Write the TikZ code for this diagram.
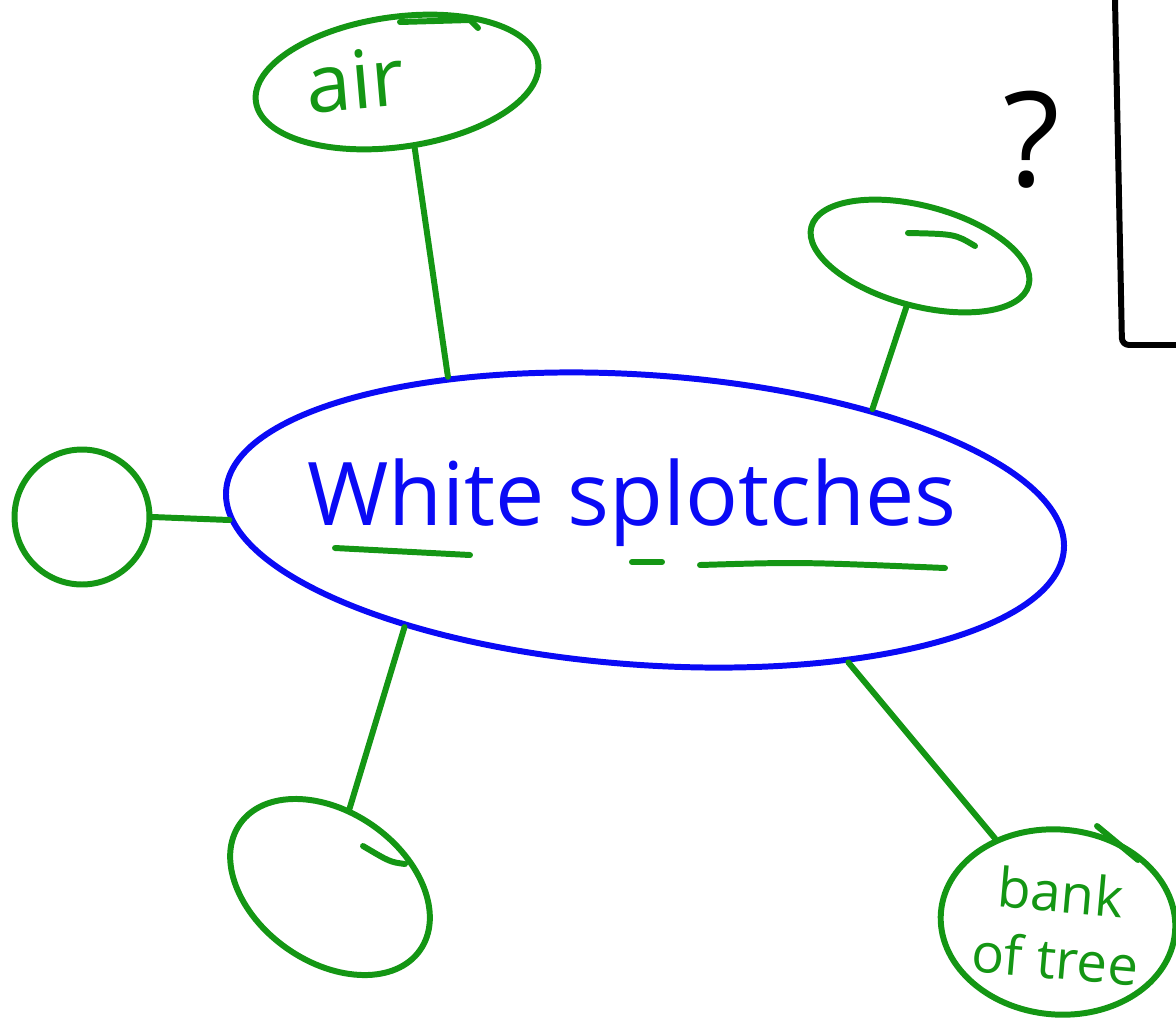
\documentclass[tikz,border=0pt]{standalone}
\usepackage{fontspec}
\setmainfont{Open Sans}
\usetikzlibrary{shapes.geometric}
\definecolor{pengreen}{RGB}{20,150,20}
\definecolor{penblue}{RGB}{10,10,245}

\begin{document}
\begin{tikzpicture}
        [x=0.02cm, y=-0.02cm,
        pen/.style={line width=3.4pt, line cap=round, line join=round},
        bubble/.style={ellipse, draw=pengreen, pen, inner sep=0pt},
        link/.style={draw=pengreen, pen},
        greenword/.style={text=pengreen, align=center},]

        \useasboundingbox (0,0) rectangle (1176,1018);

        \node[ellipse, draw=penblue, pen, minimum width=16.8cm, minimum height=5.8cm, rotate=-4] (main) at (645,520) {};
        \node[text=penblue, font=\fontsize{50}{52}\selectfont] (title) at (632,503) {White splotches};

        \node[bubble, minimum width=5.7cm, minimum height=2.6cm, rotate=8] (air) at (397,82) {};
        \node[greenword, rotate=5, font=\fontsize{46}{48}\selectfont] (airtext) at (355,80) {air};
        \node[bubble, minimum width=4.5cm, minimum height=2cm, rotate=-15] (upper) at (920,256) {};
        \node[bubble, circle, minimum size=2.7cm] (side) at (82,517) {};
        \node[bubble, minimum width=4.4cm, minimum height=3cm, rotate=-35] (lower) at (330,887) {};
        \node[bubble, minimum width=4.7cm, minimum height=3.7cm, rotate=-5] (bank) at (1058,922) {};
        \node[greenword, rotate=-5, font=\fontsize{31}{38}\selectfont] (banktext) at (1058,925) {bank\\of tree};

        \draw[link] (air.-83) -- (main.148);
        \draw[link] (upper.-90) -- (main.30);
        \draw[link] (side.east) -- (main.184);
        \draw[link] (lower.111) -- (main.208);
        \draw[link] (bank.132) -- (main.-31);

        \draw[link] (400,22) -- (470,20) -- (478,28);
        \draw[link] (908,233) .. controls (955,234) .. (975,246);
        \draw[link] (363,846) .. controls (390,862) .. (405,864);
        \draw[link] (1097,826) -- (1138,860);

        \draw[link] (335,548) -- (470,555);
        \draw[link] (632,562) -- (662,562);
        \draw[link] (700,565) .. controls (800,562) .. (945,568);

        \node[font=\fontsize{75}{75}\selectfont] (qmark) at (1032,140) {?};
        \draw[pen, black, rounded corners=4pt] (1115,0) -- (1122,345) -- (1176,345);

    \end{tikzpicture}
\end{document}
